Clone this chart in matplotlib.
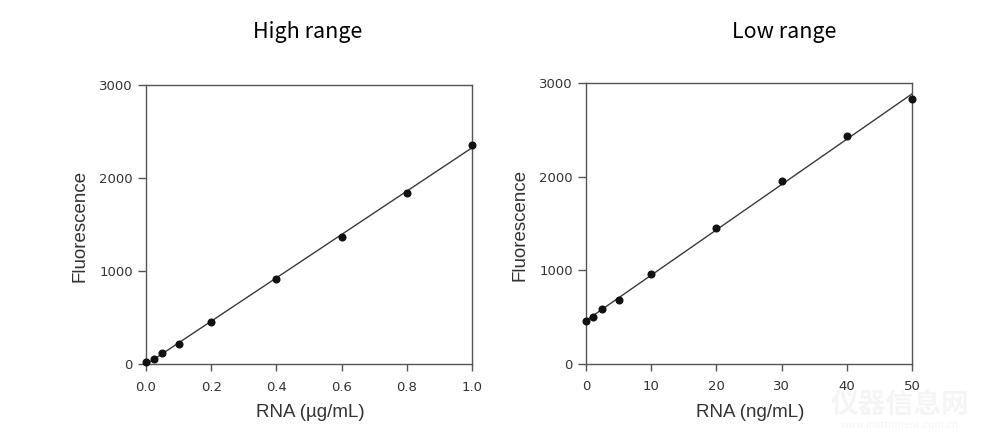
import numpy as np
import matplotlib
matplotlib.use("Agg")
import matplotlib.pyplot as plt

# ---- data ----
high_x = [0.0, 0.025, 0.05, 0.1, 0.2, 0.4, 0.6, 0.8, 1.0]
high_y = [18, 57, 118, 218, 451, 916, 1364, 1844, 2360]
low_x = [0, 1, 2.5, 5, 10, 20, 30, 40, 50]
low_y = [457, 496, 579, 682, 957, 1450, 1950, 2436, 2836]

high_xticks = [0.0, 0.2, 0.4, 0.6, 0.8, 1.0]
high_xticklabels = ["0.0", "0.2", "0.4", "0.6", "0.8", "1.0"]
low_xticks = [0, 10, 20, 30, 40, 50]
low_xticklabels = ["0", "10", "20", "30", "40", "50"]
yticks = [0, 1000, 2000, 3000]
yticklabels = ["0", "1000", "2000", "3000"]

titles = ["High range", "Low range"]
xlabels = ["RNA (\u00b5g/mL)", "RNA (ng/mL)"]
ylabel = "Fluorescence"

TEXT = "#333333"
SPINE = "#555555"

fig = plt.figure(figsize=(9.86, 4.44), dpi=100)
fig.patch.set_facecolor("white")

axes_rects = [
    [146 / 986, 1 - 364 / 444, 326 / 986, 279 / 444],
    [586 / 986, 1 - 363.5 / 444, 326 / 986, 280 / 444],
]
panels = [
    (high_x, high_y, high_xticks, high_xticklabels, (0, 1.0)),
    (low_x, low_y, low_xticks, low_xticklabels, (0, 50)),
]

for rect, (xs, ys, xt, xtl, xlim), xl in zip(axes_rects, panels, xlabels):
    ax = fig.add_axes(rect)
    xs_a = np.asarray(xs, dtype=float)
    ys_a = np.asarray(ys, dtype=float)
    slope, icpt = np.polyfit(xs_a, ys_a, 1)
    fx = np.array([xlim[0], xlim[1]])
    ax.plot(fx, slope * fx + icpt, color="#3a3a3a", lw=1.0, zorder=2)
    ax.plot(xs_a, ys_a, "o", color="#111111", ms=4.8, zorder=3, clip_on=False)
    ax.set_xlim(*xlim)
    ax.set_ylim(0, 3000)
    ax.set_xticks(xt)
    ax.set_xticklabels(xtl)
    ax.set_yticks(yticks)
    ax.set_yticklabels(yticklabels)
    for s in ax.spines.values():
        s.set_color(SPINE)
        s.set_linewidth(1.0)
    ax.tick_params(axis="x", direction="out", length=5, width=1, color=SPINE,
                   pad=7, labelsize=9.5, labelcolor=TEXT)
    ax.tick_params(axis="y", direction="out", length=6, width=1, color=SPINE,
                   pad=3.5, labelsize=9.5, labelcolor=TEXT)
    for lab in ax.get_xticklabels() + ax.get_yticklabels():
        lab.set_family("DejaVu Sans")
    ax.set_xlabel(xl, fontsize=13.5, color=TEXT, family="Liberation Sans")
    ax.set_ylabel(ylabel, fontsize=13.5, color=TEXT, family="Liberation Sans")
    ax.xaxis.set_label_coords(0.505, -0.143)
    ax.yaxis.set_label_coords(-0.177, 0.496)

fig.text(308 / 986, 1 - 32 / 444, titles[0], ha="center", va="center",
         fontsize=15.5, color="#000000", family=["Noto Sans CJK SC", "DejaVu Sans"])
fig.text(784.5 / 986, 1 - 32 / 444, titles[1], ha="center", va="center",
         fontsize=15.5, color="#000000", family=["Noto Sans CJK SC", "DejaVu Sans"])

# faint watermark
fig.text(900 / 986, 1 - 406 / 444, "仪器信息网", ha="center", va="center",
         fontsize=20, color="#f5f5f5", family=["Noto Sans CJK SC", "DejaVu Sans"],
         zorder=0, fontweight="bold")
fig.text(900 / 986, 1 - 425 / 444, "www.instrument.com.cn", ha="center", va="center",
         fontsize=7, color="#f5f5f5", family="DejaVu Sans", zorder=0)

fig.savefig("out.png", dpi=100, facecolor="white")
